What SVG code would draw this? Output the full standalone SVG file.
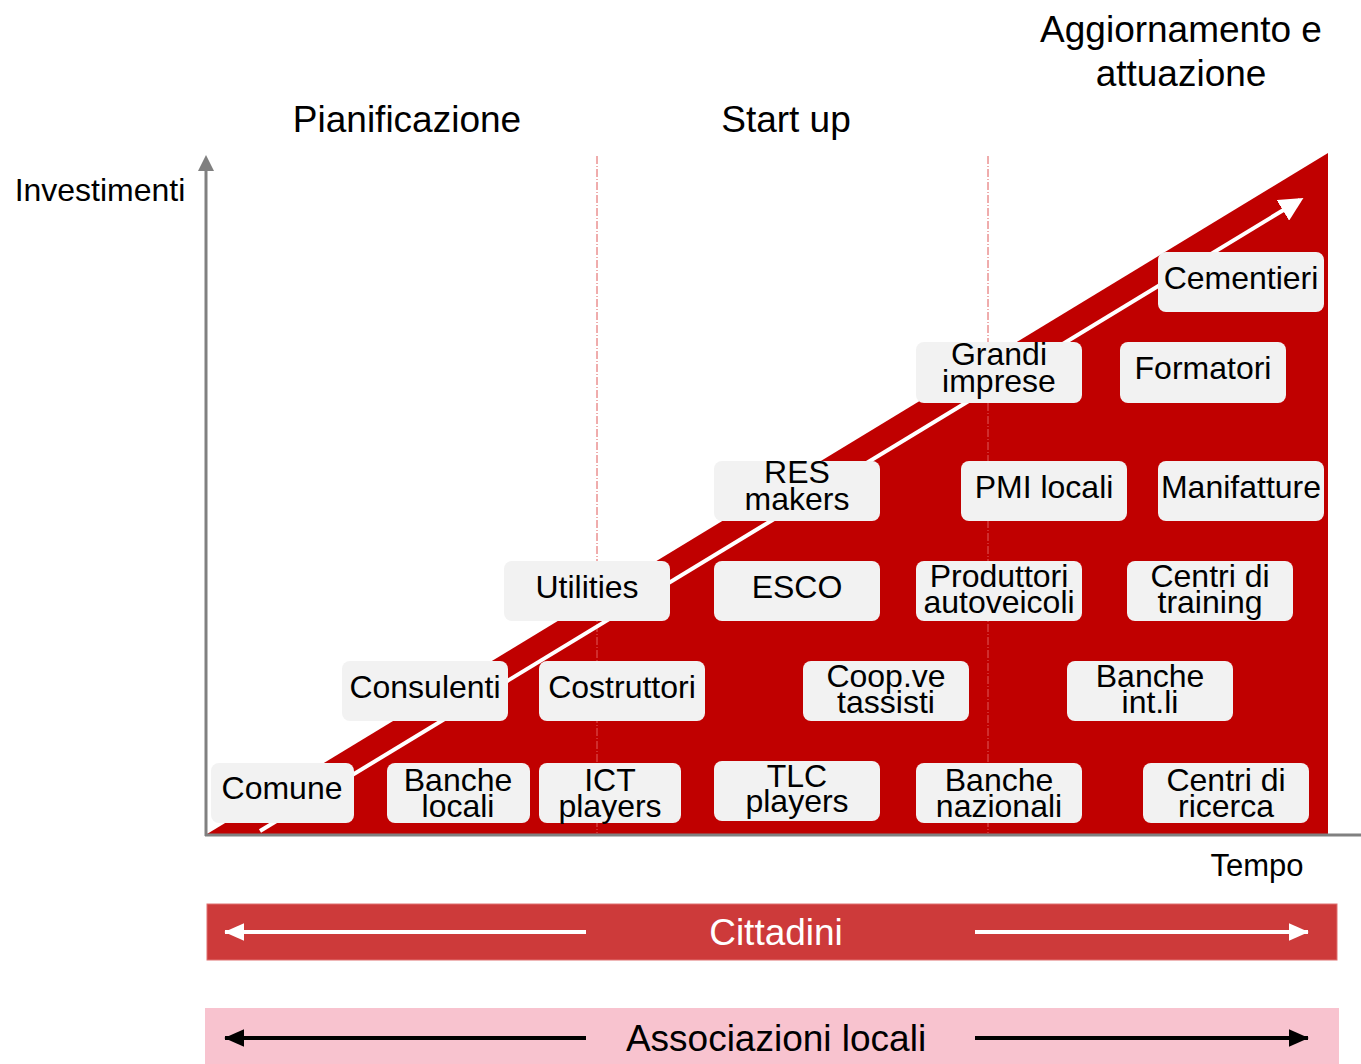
<svg xmlns="http://www.w3.org/2000/svg" width="1361" height="1064" viewBox="0 0 1361 1064">
<style>
text{font-family:"Liberation Sans",Arial,sans-serif;}
.lbl{font-size:32px;fill:#000;text-anchor:middle;}
.title{font-size:37px;fill:#000;text-anchor:middle;}
.box{fill:#F2F2F2;}
.axis{stroke:#808080;stroke-width:3;fill:none;}
.sep{stroke:#E05A5A;stroke-width:1;stroke-dasharray:8,2,1,2;fill:none;}
</style>
<defs>
<marker id="ahW" markerWidth="6" markerHeight="6" refX="5" refY="3" orient="auto" markerUnits="strokeWidth"><path d="M0,0 L6,3 L0,6 Z" fill="#fff"/></marker>
<marker id="ahW2" markerWidth="5" markerHeight="4.4" refX="4.8" refY="2.2" orient="auto" markerUnits="strokeWidth"><path d="M0,0 L5,2.2 L0,4.4 Z" fill="#fff"/></marker>
<marker id="ahB" markerWidth="5" markerHeight="4.4" refX="4.8" refY="2.2" orient="auto" markerUnits="strokeWidth"><path d="M0,0 L5,2.2 L0,4.4 Z" fill="#000"/></marker>
</defs>

<g id="chart">
<polygon points="207,834 1328,153 1328,834" fill="#C00000"/>
<line class="sep" x1="597" y1="156" x2="597" y2="833"/>
<line class="sep" x1="988" y1="156" x2="988" y2="833"/>
<line class="axis" x1="205" y1="835" x2="1361" y2="835"/>
<line class="axis" x1="206" y1="836" x2="206" y2="168"/>
<polygon points="198,171 214,171 206,155" fill="#808080"/>
</g>

<g id="connectors">
<line x1="260" y1="831" x2="1300" y2="200" stroke="#fff" stroke-width="4" marker-end="url(#ahW)"/>
</g>

<g id="labels">
<text class="title" x="407" y="132">Pianificazione</text>
<text class="title" x="786" y="132">Start up</text>
<text class="title" x="1181" y="42">Aggiornamento e</text>
<text class="title" x="1181" y="86">attuazione</text>
<text x="100" y="201" font-size="32" text-anchor="middle">Investimenti</text>
<text x="1257" y="876" font-size="31" text-anchor="middle">Tempo</text>
</g>

<g id="n-comune"><rect class="box" x="211" y="763" width="143" height="60" rx="8"/><text class="lbl" x="282" y="799">Comune</text></g>
<g id="n-banche-locali"><rect class="box" x="387" y="763" width="143" height="60" rx="8"/><text class="lbl" x="458" y="791">Banche</text><text class="lbl" x="458" y="817">locali</text></g>
<g id="n-ict"><rect class="box" x="539" y="763" width="142" height="60" rx="8"/><text class="lbl" x="610" y="791">ICT</text><text class="lbl" x="610" y="817">players</text></g>
<g id="n-tlc"><rect class="box" x="714" y="761" width="166" height="60" rx="8"/><text class="lbl" x="797" y="787">TLC</text><text class="lbl" x="797" y="812">players</text></g>
<g id="n-banche-nazionali"><rect class="box" x="916" y="763" width="166" height="60" rx="8"/><text class="lbl" x="999" y="791">Banche</text><text class="lbl" x="999" y="817">nazionali</text></g>
<g id="n-centri-ricerca"><rect class="box" x="1143" y="763" width="166" height="60" rx="8"/><text class="lbl" x="1226" y="791">Centri di</text><text class="lbl" x="1226" y="817">ricerca</text></g>

<g id="n-consulenti"><rect class="box" x="342" y="661" width="166" height="60" rx="8"/><text class="lbl" x="425" y="698">Consulenti</text></g>
<g id="n-costruttori"><rect class="box" x="539" y="661" width="166" height="60" rx="8"/><text class="lbl" x="622" y="698">Costruttori</text></g>
<g id="n-coop"><rect class="box" x="803" y="661" width="166" height="60" rx="8"/><text class="lbl" x="886" y="687">Coop.ve</text><text class="lbl" x="886" y="713">tassisti</text></g>
<g id="n-banche-intli"><rect class="box" x="1067" y="661" width="166" height="60" rx="8"/><text class="lbl" x="1150" y="687">Banche</text><text class="lbl" x="1150" y="713">int.li</text></g>

<g id="n-utilities"><rect class="box" x="504" y="561" width="166" height="60" rx="8"/><text class="lbl" x="587" y="598">Utilities</text></g>
<g id="n-esco"><rect class="box" x="714" y="561" width="166" height="60" rx="8"/><text class="lbl" x="797" y="598">ESCO</text></g>
<g id="n-produttori"><rect class="box" x="916" y="561" width="166" height="60" rx="8"/><text class="lbl" x="999" y="587">Produttori</text><text class="lbl" x="999" y="613">autoveicoli</text></g>
<g id="n-centri-training"><rect class="box" x="1127" y="561" width="166" height="60" rx="8"/><text class="lbl" x="1210" y="587">Centri di</text><text class="lbl" x="1210" y="613">training</text></g>

<g id="n-res"><rect class="box" x="714" y="461" width="166" height="60" rx="8"/><text class="lbl" x="797" y="483">RES</text><text class="lbl" x="797" y="510">makers</text></g>
<g id="n-pmi"><rect class="box" x="961" y="461" width="166" height="60" rx="8"/><text class="lbl" x="1044" y="498">PMI locali</text></g>
<g id="n-manifatture"><rect class="box" x="1158" y="461" width="166" height="60" rx="8"/><text class="lbl" x="1241" y="498">Manifatture</text></g>

<g id="n-grandi"><rect class="box" x="916" y="342" width="166" height="61" rx="8"/><text class="lbl" x="999" y="365">Grandi</text><text class="lbl" x="999" y="392">imprese</text></g>
<g id="n-formatori"><rect class="box" x="1120" y="342" width="166" height="61" rx="8"/><text class="lbl" x="1203" y="379">Formatori</text></g>
<g id="n-cementieri"><rect class="box" x="1158" y="252" width="166" height="60" rx="8"/><text class="lbl" x="1241" y="289">Cementieri</text></g>

<g id="band-cittadini">
<rect x="207" y="904" width="1130" height="56" fill="#CD3A3A" stroke="#E07070" stroke-width="1"/>
<line x1="586" y1="932" x2="225" y2="932" stroke="#fff" stroke-width="4" marker-end="url(#ahW2)"/>
<line x1="975" y1="932" x2="1308" y2="932" stroke="#fff" stroke-width="4" marker-end="url(#ahW2)"/>
<text x="776" y="945" font-size="37" fill="#fff" text-anchor="middle">Cittadini</text>
</g>
<g id="band-associazioni">
<rect x="205" y="1008" width="1134" height="56" fill="#F8C3CF"/>
<line x1="586" y1="1038" x2="225" y2="1038" stroke="#000" stroke-width="4" marker-end="url(#ahB)"/>
<line x1="975" y1="1038" x2="1308" y2="1038" stroke="#000" stroke-width="4" marker-end="url(#ahB)"/>
<text x="776" y="1051" font-size="37" fill="#000" text-anchor="middle">Associazioni locali</text>
</g>
</svg>
